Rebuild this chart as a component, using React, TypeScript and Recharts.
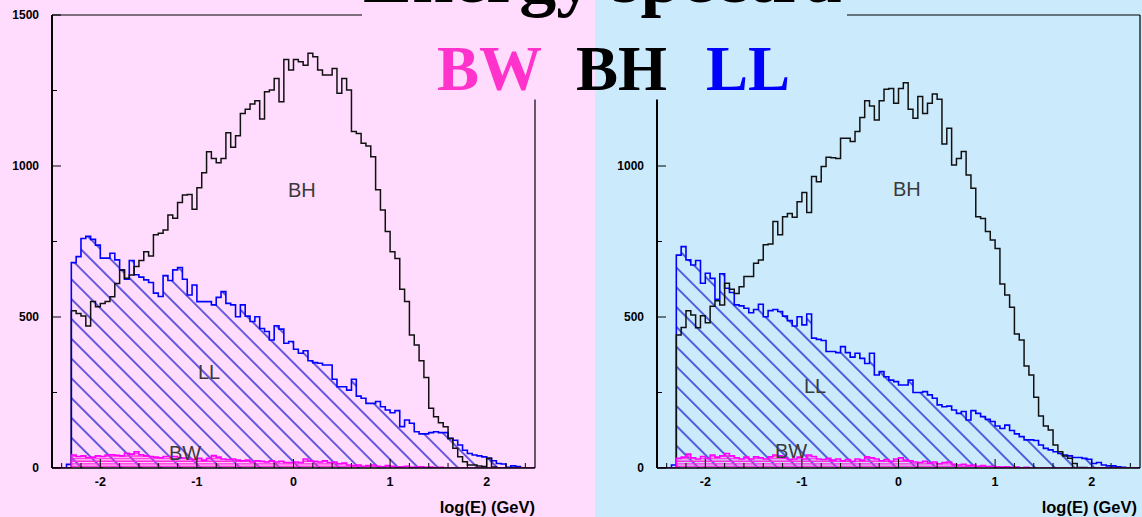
import { ComposedChart, Area, XAxis, YAxis, ReferenceLine } from "recharts"

const PINK = "#ffdcfe"
const BLUE = "#cbebfd"
const SANS = "'Liberation Sans', Arial, Helvetica, sans-serif"
const SERIF = "'Liberation Serif', 'Times New Roman', serif"

// histogram binning in log10(E)
const FIRST_BIN = -2.35
const BIN_WIDTH = 0.05
const X_DOMAIN: [number, number] = [-2.5, 2.5]
const Y_DOMAIN: [number, number] = [0, 1500]

const xTicks = [
  -2.4, -2.2, -2, -1.8, -1.6, -1.4, -1.2, -1, -0.8, -0.6, -0.4, -0.2, 0, 0.2, 0.4, 0.6, 0.8, 1, 1.2,
  1.4, 1.6, 1.8, 2, 2.2, 2.4,
]
const yTicks = [0, 250, 500, 750, 1000, 1250, 1500]

// counts per bin, first bin starts at FIRST_BIN
const bhLeft = [
  0,
  521, 512, 503, 470, 551, 534, 545, 551, 567, 611,
  656, 628, 639, 667, 687, 716, 702, 772, 777, 788,
  838, 827, 879, 904, 906, 857, 928, 978, 1047, 1025,
  1011, 1025, 1110, 1062, 1100, 1174, 1188, 1205, 1216, 1156,
  1246, 1252, 1290, 1213, 1353, 1318, 1353, 1345, 1334, 1373,
  1362, 1318, 1301, 1301, 1323, 1241, 1290, 1252, 1114, 1108,
  1075, 1066, 1031, 921, 854, 783, 716, 694, 592, 551,
  440, 407, 355, 300, 198, 170, 150, 137, 98, 65,
  37, 21, 10, 10, 7, 5, 32, 3, 0, 0,
  0, 0, 0, 0, 0, 0,
]
const llLeft = [
  12,
  680, 700, 760, 767, 757, 738, 695, 695, 711, 689,
  656, 625, 687, 640, 632, 623, 614, 579, 568, 637,
  621, 656, 664, 625, 573, 606, 551, 551, 551, 540,
  565, 584, 545, 540, 501, 540, 503, 485, 501, 462,
  452, 424, 471, 460, 413, 419, 393, 380, 388, 355,
  349, 347, 341, 341, 294, 269, 269, 258, 294, 238,
  231, 214, 214, 220, 203, 192, 183, 190, 137, 159,
  148, 120, 113, 113, 117, 120, 117, 117, 98, 92,
  76, 59, 48, 43, 40, 37, 32, 24, 15, 13,
  2, 7, 5, 0, 0, 0,
]
const bwLeft = [
  0,
  43, 38, 40, 35, 36, 40, 38, 43, 44, 42,
  40, 49, 46, 54, 44, 40, 38, 36, 34, 38,
  38, 38, 34, 33, 30, 28, 32, 26, 32, 41,
  36, 30, 28, 30, 26, 24, 26, 20, 24, 22,
  20, 24, 20, 22, 18, 18, 20, 18, 30, 24,
  22, 20, 24, 18, 20, 14, 16, 10, 8, 10,
  6, 8, 10, 6, 4, 8, 6, 3, 4, 6,
  2, 3, 4, 2, 3, 1, 2, 0, 1, 0,
  0, 0, 0, 0, 0, 0, 0, 0, 0, 0,
  0, 0, 0, 0, 0, 0,
]

const bhRight = [
  0,
  440, 465, 521, 507, 464, 504, 481, 536, 554, 540,
  612, 592, 578, 600, 634, 634, 678, 689, 739, 742,
  816, 772, 832, 843, 830, 882, 912, 846, 965, 948,
  998, 1029, 1027, 1025, 1092, 1092, 1081, 1114, 1161, 1216,
  1199, 1152, 1216, 1254, 1257, 1208, 1257, 1276, 1188, 1158,
  1230, 1174, 1208, 1238, 1221, 1073, 1125, 1003, 1025, 1048,
  970, 926, 832, 826, 783, 755, 727, 609, 573, 532,
  444, 424, 338, 308, 234, 172, 139, 126, 76, 54,
  40, 32, 15, 2, 2, 0, 0, 0, 0, 0,
  0, 0, 0, 0, 0, 0,
]
const llRight = [
  10,
  705, 733, 689, 672, 687, 612, 645, 628, 559, 643,
  595, 581, 540, 537, 529, 514, 525, 542, 501, 521,
  525, 518, 503, 488, 470, 501, 474, 510, 430, 426,
  422, 386, 386, 382, 402, 382, 367, 380, 363, 346,
  380, 308, 319, 302, 291, 286, 275, 275, 291, 250,
  250, 253, 242, 231, 209, 203, 205, 192, 181, 187,
  159, 190, 181, 170, 161, 154, 139, 131, 142, 124,
  113, 104, 93, 93, 91, 76, 65, 60, 54, 48,
  43, 40, 35, 35, 32, 29, 15, 18, 10, 7,
  7, 4, 2, 0, 0, 0,
]
const bwRight = [
  0,
  32, 36, 46, 34, 30, 38, 32, 43, 36, 40,
  48, 40, 34, 30, 36, 30, 37, 34, 30, 37,
  43, 40, 34, 28, 30, 36, 30, 43, 38, 30,
  28, 32, 26, 30, 24, 28, 22, 30, 26, 37,
  34, 30, 24, 28, 22, 30, 34, 26, 24, 20,
  18, 22, 16, 20, 14, 18, 20, 12, 10, 12,
  8, 10, 6, 8, 5, 6, 4, 3, 4, 2,
  3, 1, 2, 0, 0, 0, 0, 0, 0, 0,
  0, 0, 0, 0, 0, 0, 0, 0, 0, 0,
  0, 0, 0, 0, 0, 0,
]

type Row = { x: number; bh: number; ll: number; bw: number }

// one row per bin left edge, plus closing edges at both ends of the axis
function buildRows(bh: number[], ll: number[], bw: number[]): Row[] {
  const n = Math.max(bh.length, ll.length, bw.length)
  const rows: Row[] = [{ x: X_DOMAIN[0], bh: 0, ll: 0, bw: 0 }]
  for (let i = 0; i < n; i++) {
    rows.push({
      x: +(FIRST_BIN + i * BIN_WIDTH).toFixed(3),
      bh: bh[i] ?? 0,
      ll: ll[i] ?? 0,
      bw: bw[i] ?? 0,
    })
  }
  rows.push({ x: X_DOMAIN[1], bh: 0, ll: 0, bw: 0 })
  return rows
}

// ticks point inward, like the old HIGZ frames
function XTick({ x, y, payload }: any) {
  const major = Number.isInteger(payload.value)
  return (
    <g>
      <line x1={x} y1={y} x2={x} y2={y - (major ? 9 : 5)} stroke="#000" strokeWidth={1} />
      {major && (
        <text x={x} y={y + 18} textAnchor="middle" fontFamily={SANS} fontWeight="bold" fontSize={12.5} fill="#000">
          {payload.value}
        </text>
      )}
    </g>
  )
}

function YTick({ x, y, payload }: any) {
  const major = payload.value % 500 === 0
  return (
    <g>
      <line x1={x} y1={y} x2={x + (major ? 9 : 5)} y2={y} stroke="#000" strokeWidth={1} />
      {major && (
        <text x={x - 13} y={y + 4} textAnchor="end" fontFamily={SANS} fontWeight="bold" fontSize={12} fill="#000">
          {payload.value}
        </text>
      )}
    </g>
  )
}

function Panel({
  id,
  width,
  axisWidth,
  marginRight,
  bh,
  ll,
  bw,
}: {
  id: string
  width: number
  axisWidth: number
  marginRight: number
  bh: number[]
  ll: number[]
  bw: number[]
}) {
  const rows = buildRows(bh, ll, bw)
  return (
    <ComposedChart width={width} height={517} data={rows} margin={{ top: 15, right: marginRight, bottom: 19, left: 0 }}>
      <defs>
        <pattern id={`${id}-ll`} patternUnits="userSpaceOnUse" width={14} height={14} patternTransform="rotate(45)">
          <line x1={0} y1={7} x2={14} y2={7} stroke="#0000c8" strokeWidth={1.2} />
        </pattern>
        <pattern id={`${id}-bw`} patternUnits="userSpaceOnUse" width={8} height={2.6}>
          <line x1={0} y1={1} x2={8} y2={1} stroke="#ff22dd" strokeWidth={1.4} />
        </pattern>
      </defs>
      <XAxis
        dataKey="x"
        type="number"
        domain={X_DOMAIN}
        allowDataOverflow
        ticks={xTicks}
        interval={0}
        tick={<XTick />}
        tickLine={false}
        tickSize={0}
        tickMargin={0}
        height={30}
        axisLine={{ stroke: "#000", strokeWidth: 1.5 }}
      />
      <YAxis
        type="number"
        domain={Y_DOMAIN}
        allowDataOverflow
        ticks={yTicks}
        interval={0}
        tick={<YTick />}
        tickLine={false}
        tickSize={0}
        tickMargin={0}
        width={axisWidth}
        axisLine={{ stroke: "#000", strokeWidth: 2 }}
      />
      <ReferenceLine y={Y_DOMAIN[1]} stroke="#000" strokeWidth={1.2} />
      <ReferenceLine x={X_DOMAIN[1]} stroke="#000" strokeWidth={1.2} />
      <Area
        dataKey="ll"
        type="stepAfter"
        stroke="#0000ff"
        strokeWidth={1.6}
        fill={`url(#${id}-ll)`}
        fillOpacity={1}
        dot={false}
        activeDot={false}
        isAnimationActive={false}
      />
      <Area
        dataKey="bh"
        type="stepAfter"
        stroke="#111"
        strokeWidth={1.5}
        fill="none"
        dot={false}
        activeDot={false}
        isAnimationActive={false}
      />
      <Area
        dataKey="bw"
        type="stepAfter"
        stroke="#ff00ff"
        strokeWidth={1.6}
        fill={`url(#${id}-bw)`}
        fillOpacity={1}
        dot={false}
        activeDot={false}
        isAnimationActive={false}
      />
    </ComposedChart>
  )
}

const labelStyle = { fontFamily: SANS, fontSize: 20, fill: "#3a3a3a" }

export default function App() {
  return (
    <div style={{ position: "absolute", left: 0, top: 0, width: 1142, height: 517, overflow: "hidden" }}>
      <div style={{ position: "absolute", left: 0, top: 0, width: 595, height: 517, background: PINK }} />
      <div style={{ position: "absolute", left: 595, top: 0, width: 547, height: 517, background: BLUE }} />

      <div style={{ position: "absolute", left: 0, top: 0 }}>
        <Panel id="left" width={597} axisWidth={52} marginRight={62} bh={bhLeft} ll={llLeft} bw={bwLeft} />
      </div>
      <div style={{ position: "absolute", left: 597, top: 0 }}>
        <Panel id="right" width={545} axisWidth={60} marginRight={2} bh={bhRight} ll={llRight} bw={bwRight} />
      </div>

      <svg width={1142} height={517} style={{ position: "absolute", left: 0, top: 0, pointerEvents: "none" }}>
        {/* title block sits on top of both frames */}
        <rect x={362} y={0} width={233} height={99.5} fill={PINK} />
        <rect x={595} y={0} width={252} height={99.5} fill={BLUE} />
        <text x={363} y={2} fontFamily={SERIF} fontWeight="bold" fontSize={74} fill="#000">
          Energy spectra
        </text>
        <text x={437} y={90} fontFamily={SERIF} fontWeight="bold" fontSize={63} fill="#ff33cc">
          BW
        </text>
        <text x={576} y={90} fontFamily={SERIF} fontWeight="bold" fontSize={63} fill="#000">
          BH
        </text>
        <text x={706} y={90} fontFamily={SERIF} fontWeight="bold" fontSize={63} fill="#0000ff">
          LL
        </text>

        <text x={288} y={197} {...labelStyle}>BH</text>
        <text x={198} y={379} {...labelStyle}>LL</text>
        <text x={169} y={460} {...labelStyle}>BW</text>
        <text x={893} y={196} {...labelStyle}>BH</text>
        <text x={804} y={393} {...labelStyle}>LL</text>
        <text x={775} y={458} {...labelStyle}>BW</text>

        <text x={535} y={513} textAnchor="end" fontFamily={SANS} fontWeight="bold" fontSize={16.5} fill="#000">
          log(E) (GeV)
        </text>
        <text x={1137} y={513} textAnchor="end" fontFamily={SANS} fontWeight="bold" fontSize={16.5} fill="#000">
          log(E) (GeV)
        </text>
      </svg>
    </div>
  )
}
